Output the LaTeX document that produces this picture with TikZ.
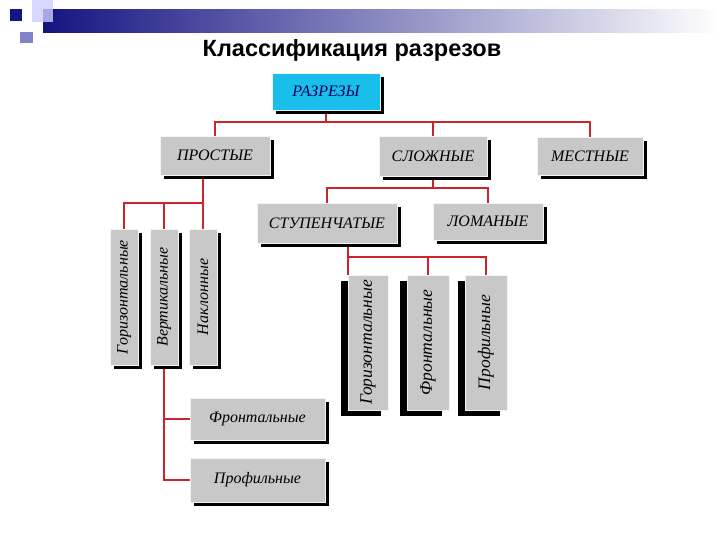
\documentclass[tikz,border=0pt]{standalone}
\usepackage{fontspec}
\setmainfont{Liberation Serif}
\setsansfont{Liberation Sans}
\usetikzlibrary{shadows,backgrounds}

\definecolor{linkred}{RGB}{205,35,45}
\definecolor{boxgray}{RGB}{200,200,200}
\definecolor{topcyan}{RGB}{25,190,235}
\definecolor{navyblue}{RGB}{20,20,130}
\definecolor{barmid}{RGB}{175,175,200}

\begin{document}
\begin{tikzpicture}[x=1pt, y=-1pt,
    box/.style={fill=boxgray, draw=white!80!boxgray, line width=0.6pt, inner sep=0pt, align=center,
      font=\fontsize{16}{18}\selectfont\itshape},
    rbox/.style={box, drop shadow={shadow xshift=4pt, shadow yshift=-4pt, opacity=1, fill=black}},
    lbox/.style={box, font=\fontsize{17.5}{19}\selectfont\itshape,
      drop shadow={shadow xshift=-7pt, shadow yshift=-6pt, opacity=1, fill=black}},
    link/.style={draw=linkred, line width=2pt}
  ]
    \useasboundingbox (0,0) rectangle (720,540);

    % header decoration
    \shade[left color=navyblue, middle color=barmid, right color=white] (43,10) rectangle (720,33);
    \fill[blue!20!white, opacity=0.8] (32,0) rectangle (53,22);
    \fill[navyblue] (10,9) rectangle (22,21);
    \fill[blue!40!gray!70!white] (20,32) rectangle (33,43);

    \node[font=\fontsize{23.5}{26}\selectfont\sffamily\bfseries] (title) at (352,50) {Классификация разрезов};

    % boxes
    \node[rbox, fill=topcyan, text=blue!35!black, minimum width=108, minimum height=37] (razrezy) at (326,91.5) {РАЗРЕЗЫ};
    \node[rbox, minimum width=110, minimum height=39] (prostye) at (215,155.5) {ПРОСТЫЕ};
    \node[rbox, minimum width=108, minimum height=40] (slozhnye) at (433,156) {СЛОЖНЫЕ};
    \node[rbox, minimum width=106, minimum height=38] (mestnye) at (590,156) {МЕСТНЫЕ};
    \node[rbox, minimum width=140, minimum height=40] (stup) at (327,223) {СТУПЕНЧАТЫЕ};
    \node[rbox, minimum width=110, minimum height=37] (lomanye) at (488,221.5) {ЛОМАНЫЕ};

    \node[rbox, minimum width=28, minimum height=136] (lgor) at (124,297) {\rotatebox{90}{Горизонтальные}};
    \node[rbox, minimum width=28, minimum height=136] (lvert) at (164,297) {\rotatebox{90}{Вертикальные}};
    \node[rbox, minimum width=28, minimum height=136] (lnakl) at (203,297) {\rotatebox{90}{Наклонные}};

    \node[rbox, minimum width=135, minimum height=42] (front) at (257.5,419) {Фронтальные};
    \node[rbox, minimum width=135, minimum height=44] (prof) at (257.5,480) {Профильные};

    \node[lbox, minimum width=40, minimum height=135] (rgor) at (368,342.5) {\rotatebox{90}{Горизонтальные}};
    \node[lbox, minimum width=42, minimum height=135] (rfront) at (428,342.5) {\rotatebox{90}{Фронтальные}};
    \node[lbox, minimum width=42, minimum height=135] (rprof) at (486,342.5) {\rotatebox{90}{Профильные}};

    % connectors
    \coordinate (bus1) at (326,122);
    \coordinate (bus2) at (433,188);
    \coordinate (pbus) at (203,203);
    \coordinate (sbus) at (348,257);
    \begin{scope}[on background layer]
      \draw[link] (razrezy.south) -- (bus1);
      \draw[link] (prostye.north) |- (bus1) -| (mestnye.north);
      \draw[link] (bus1 -| slozhnye.north) -- (slozhnye.north);

      \draw[link] (slozhnye.south) -- (bus2);
      \draw[link] (stup.north) |- (bus2) -| (lomanye.north);

      \draw[link] (lnakl.north |- prostye.south) -- (lnakl.north);
      \draw[link] (lgor.north) |- (pbus);
      \draw[link] (lvert.north |- pbus) -- (lvert.north);
      \draw[link] (lvert.south) |- (prof.west);
      \draw[link] (lvert.south |- front.west) -- (front.west);

      \draw[link] (stup.south -| rgor.west) -- (rgor.north west);
      \draw[link] (sbus) -| (rprof.north);
      \draw[link] (rfront.north |- sbus) -- (rfront.north);
    \end{scope}
  \end{tikzpicture}
\end{document}
